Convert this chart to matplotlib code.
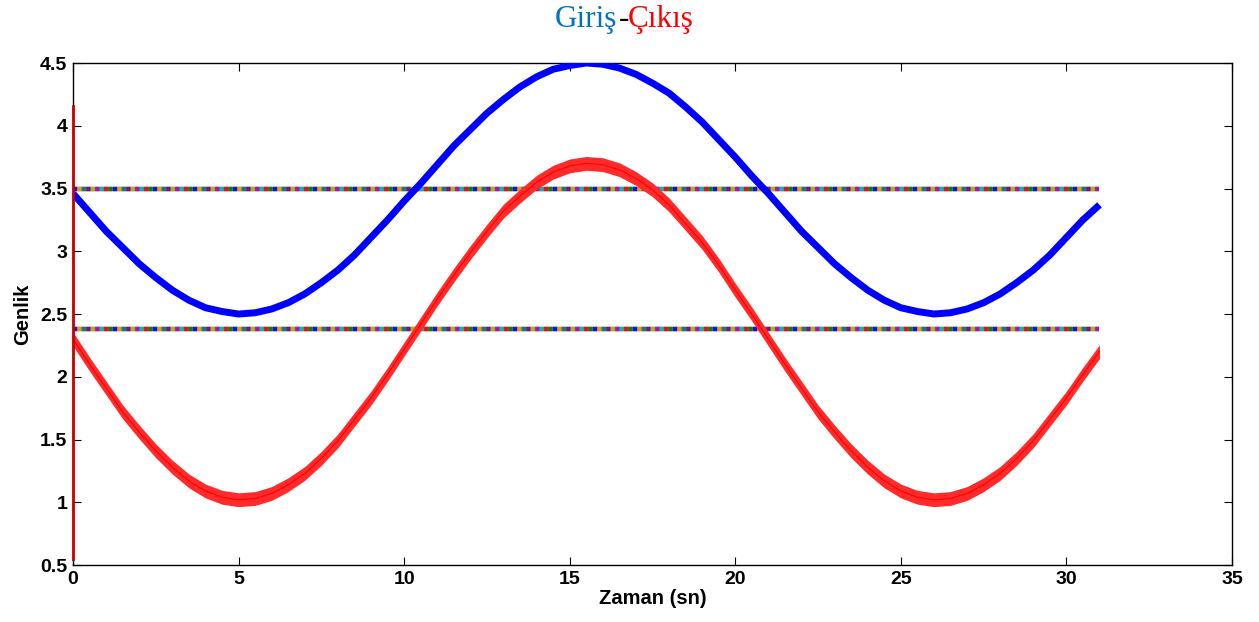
import matplotlib
matplotlib.use("Agg")
import matplotlib.pyplot as plt

# samples every 0.5 s
t = [i * 0.5 for i in range(63)]

# input (blue, thick)
giris = [3.46, 3.31, 3.16, 3.03, 2.90, 2.79, 2.69, 2.61, 2.55, 2.52, 2.50,
         2.51, 2.54, 2.59, 2.66, 2.75, 2.85, 2.97, 3.11, 3.25, 3.40, 3.54,
         3.69, 3.84, 3.97, 4.10, 4.21, 4.31, 4.39, 4.45, 4.48, 4.50, 4.49,
         4.46, 4.41, 4.34, 4.26, 4.15, 4.03, 3.89, 3.75, 3.60, 3.46, 3.31,
         3.16, 3.03, 2.90, 2.79, 2.69, 2.61, 2.55, 2.52, 2.50, 2.51, 2.54,
         2.59, 2.66, 2.75, 2.85, 2.97, 3.11, 3.25, 3.37]

# output (red, noisy band) - centre of the band
cikis = [2.30, 2.10, 1.91, 1.72, 1.56, 1.41, 1.28, 1.17, 1.09, 1.04, 1.02,
         1.03, 1.07, 1.14, 1.23, 1.35, 1.49, 1.66, 1.83, 2.02, 2.22, 2.42,
         2.62, 2.81, 2.99, 3.16, 3.32, 3.44, 3.55, 3.63, 3.68, 3.70, 3.69,
         3.65, 3.58, 3.49, 3.37, 3.22, 3.07, 2.89, 2.69, 2.50, 2.30, 2.10,
         1.91, 1.72, 1.56, 1.41, 1.28, 1.17, 1.09, 1.04, 1.02, 1.03, 1.07,
         1.14, 1.23, 1.35, 1.49, 1.66, 1.83, 2.02, 2.20]
ripple = 0.055   # half width of the noise band

# start-up spike of the output at t=0
spike_t = [0, 0]
spike_v = [0.55, 4.16]

# constant reference lines
ref_levels = [3.5, 2.38]
ref_end = 31
dash_colors = ["blue", "green", "red", "c", "m", "y", "purple", "teal", "orange"]

xticks = [0, 5, 10, 15, 20, 25, 30, 35]
yticks = [0.5, 1, 1.5, 2, 2.5, 3, 3.5, 4, 4.5]
ytick_labels = ["0.5", "1", "1.5", "2", "2.5", "3", "3.5", "4", "4.5"]

fig = plt.figure(figsize=(12.59, 6.22), dpi=100)
ax = fig.add_axes([0.058, 0.0916, 0.9205, 0.8071])

# reference lines: grey base with coloured dashes on top
for lvl in ref_levels:
    ax.plot([0, ref_end], [lvl, lvl], color="#707070", lw=3.2, zorder=2,
            solid_capstyle="butt")
    for i, c in enumerate(dash_colors):
        ax.plot([0, ref_end], [lvl, lvl], color=c, lw=3.2, zorder=2,
                linestyle=(i * 1.0, (0.9, 8.1)), dash_capstyle="butt",
                alpha=0.85)

lo = [c - ripple for c in cikis]
hi = [c + ripple for c in cikis]
ax.fill_between(t, lo, hi, color="#ff2a2a", lw=0, zorder=3)
ax.plot(t, cikis, color="red", lw=0.8, zorder=3)
ax.plot(spike_t, spike_v, color="#cc0000", lw=2, zorder=5, clip_on=False)

ax.plot(t, giris, color="blue", lw=5, solid_capstyle="butt", zorder=4)

ax.set_xlim(0, 35)
ax.set_ylim(0.5, 4.5)
ax.set_xticks(xticks)
ax.set_yticks(yticks)
ax.set_xticklabels([str(v) for v in xticks])
ax.set_yticklabels(ytick_labels)
ax.tick_params(direction="in", length=6, width=0.8, top=True, right=True,
               labelsize=14, pad=4)
for lab in ax.get_xticklabels() + ax.get_yticklabels():
    lab.set_fontweight("bold")
    lab.set_family("Liberation Sans")
for s in ax.spines.values():
    s.set_linewidth(1.0)

ax.set_xlabel("Zaman (sn)", fontsize=14.5, fontweight="bold",
              family="Liberation Sans", labelpad=1)
ax.set_ylabel("Genlik", fontsize=14.5, fontweight="bold",
              family="Liberation Sans", labelpad=6)

# two-colour title
ty = 0.968
fig.text(0.4905, ty, "Giriş", color="#0070C0", fontsize=22.5,
         family="Liberation Serif", ha="right", va="center")
fig.text(0.4915, ty, "-", color="black", fontsize=22.5,
         family="Liberation Serif", ha="left", va="center")
fig.text(0.4985, ty, "Çıkış", color="red", fontsize=22.5,
         family="Liberation Serif", ha="left", va="center")

fig.savefig("out.png", dpi=100)
